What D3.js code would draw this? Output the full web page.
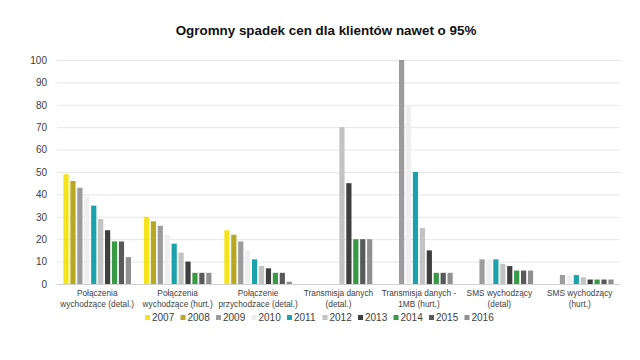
<!DOCTYPE html>
<html><head><meta charset="utf-8">
<script src="https://cdn.jsdelivr.net/npm/d3@7/dist/d3.min.js"></script>
<style>body{margin:0;background:#fff;font-family:"Liberation Sans",Arial,sans-serif}</style>
</head><body><svg id="c" width="640" height="360"></svg>
<script>
const categories = [
  ["Połączenia","wychodzące (detal.)"],
  ["Połączenia","wychodzące (hurt.)"],
  ["Połączenie","przychodzace (detal.)"],
  ["Transmisja danych","(detal.)"],
  ["Transmisja danych -","1MB (hurt.)"],
  ["SMS wychodzący","(detal)"],
  ["SMS wychodzący","(hurt.)"]
];
const years = ["2007","2008","2009","2010","2011","2012","2013","2014","2015","2016"];
const colors = ["#f5e31c","#b8a820","#9c9c9c","#efefef","#1ba2ab","#c3c3c3","#3f3f3f","#389a45","#595959","#909090"];
// values per year, one entry per category
const v2007 = [49,30,24,0,0,0,0];
const v2008 = [46,28,22,0,0,0,0];
const v2009 = [43,26,19,0,100,11,4];
const v2010 = [39,22,15,0,80,11,4];
const v2011 = [35,18,11,0,50,11,4];
const v2012 = [29,14,8,70,25,9,3];
const v2013 = [24,10,7,45,15,8,2];
const v2014 = [19,5,5,20,5,6,2];
const v2015 = [19,5,5,20,5,6,2];
const v2016 = [12,5,1,20,5,6,2];
const series = [v2007,v2008,v2009,v2010,v2011,v2012,v2013,v2014,v2015,v2016];
const yTicks = [0,10,20,30,40,50,60,70,80,90,100];
const title = "Ogromny spadek cen dla klientów nawet o 95%";

const svg = d3.select("#c");
const m = {l:57, r:20};
const W = 640;
const x0 = d3.scaleBand().domain(d3.range(categories.length)).range([m.l, W-m.r]).paddingInner(0.16).paddingOuter(0.08);
const x1 = d3.scaleBand().domain(d3.range(years.length)).range([0, x0.bandwidth()]).paddingInner(0.25);
const y = d3.scaleLinear().domain([0,100]).range([284, 60]);

svg.append("text").attr("x",326).attr("y",35).attr("text-anchor","middle")
  .attr("font-size",13.4).attr("font-weight","bold").attr("fill","#111").text(title);

const g = svg.append("g");
g.selectAll("line.grid").data(yTicks).join("line")
  .attr("x1",m.l).attr("x2",W-m.r).attr("y1",d=>y(d)+0.5).attr("y2",d=>y(d)+0.5)
  .attr("stroke",d=>d===0?"#d0d0d0":"#e6e6e6").attr("stroke-width",1);

const yAxis = d3.axisLeft(y).tickValues(yTicks).tickSize(0).tickPadding(10);
const ya = svg.append("g").attr("transform",`translate(${m.l},0)`).call(yAxis);
ya.select(".domain").remove();
ya.selectAll("text").attr("font-size",10).attr("fill","#404040").attr("font-family","Liberation Sans, Arial, sans-serif");

series.forEach((vals,si)=>{
  g.selectAll(null).data(vals.map((v,ci)=>({v,ci}))).join("rect")
    .attr("x",d=>x0(d.ci)+x1(si)).attr("width",x1.bandwidth())
    .attr("y",d=>y(d.v)).attr("height",d=>y(0)-y(d.v))
    .attr("fill",colors[si]);
});

const cl = svg.append("g");
categories.forEach((c,i)=>{
  const cx = x0(i)+x0.bandwidth()/2;
  c.forEach((line,j)=>{
    cl.append("text").attr("x",cx).attr("y",296+j*11).attr("text-anchor","middle")
      .attr("font-size",8.3).attr("fill","#404040").text(line);
  });
});

const leg = svg.append("g").attr("transform","translate(145,321)");
years.forEach((yr,i)=>{
  const it = leg.append("g").attr("transform",`translate(${i*35.5},0)`);
  it.append("rect").attr("x",0).attr("y",-6).attr("width",5).attr("height",5).attr("fill",colors[i]);
  it.append("text").attr("x",7).attr("y",0).attr("font-size",10).attr("fill","#404040").text(yr);
});
</script></body></html>
